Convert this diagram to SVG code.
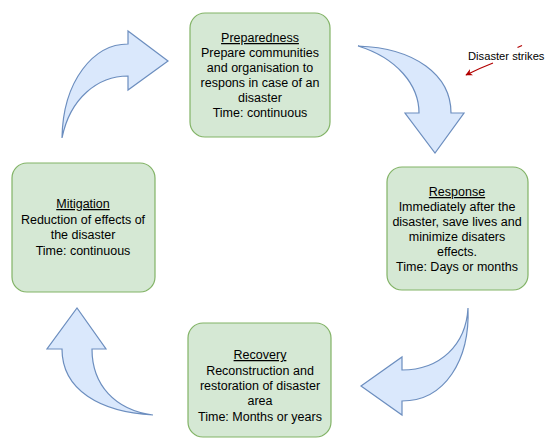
<svg xmlns="http://www.w3.org/2000/svg" width="545" height="442" viewBox="0 0 545 442">
<style>
.box{fill:#d5e8d4;stroke:#82b366;stroke-width:1.2}
.arr{fill:#dae8fc;stroke:#6c8ebf;stroke-width:1.2;stroke-linejoin:miter}
text{font-family:"Liberation Sans",Arial,Helvetica,sans-serif;font-size:12.5px;fill:#000;text-anchor:middle}
.t{text-decoration:underline}
.red{fill:none;stroke:#b20000;stroke-width:1.2}
</style>
<defs>
<marker id="rh" viewBox="0 0 10 10" refX="9" refY="5" markerWidth="7" markerHeight="7" orient="auto" markerUnits="userSpaceOnUse">
<path d="M0,0 L10,5 L0,10 L3,5 Z" fill="#b20000"/>
</marker>
</defs>
<rect width="545" height="442" fill="#fff"/>
<g id="connectors">
<path id="arrow-mit-prep" class="arr" d="M62,138 C63,80 94,44 128,44 L128,31 L168,61 L128,90 L128,76 C98,76 70,98 62,138 Z"/>
<path id="arrow-prep-resp" class="arr" d="M358,46 C415,48 451,75 451,113 L464,113 L435,153 L405,113 L419,113 C419,85 397,58 358,46 Z"/>
<path id="arrow-resp-rec" class="arr" d="M468,308 C470,360 445,401 402,401 L402,415 L361,386 L402,357 L402,370 C440,370 466,345 468,308 Z"/>
<path id="arrow-rec-mit" class="arr" d="M153,415 C100,412 62,390 62,349 L47,349 L77,308 L106,349 L92,349 C92,385 115,410 153,415 Z"/>
<path id="strike-arrow" class="red" d="M493,63 Q480,68 466,75" marker-end="url(#rh)"/>
<path class="red" d="M517.5,47.5 L522,45.5"/>
</g>
<g id="preparedness">
<rect class="box" x="190" y="13" width="140" height="124" rx="15"/>
<text x="260" y="42" class="t">Preparedness</text>
<text x="260" y="57">Prepare communities</text>
<text x="260" y="72">and organisation to</text>
<text x="260" y="87">respons in case of an</text>
<text x="260" y="102">disaster</text>
<text x="260" y="117">Time: continuous</text>
</g>
<g id="response">
<rect class="box" x="387" y="167" width="141" height="123" rx="15"/>
<text x="457" y="196" class="t">Response</text>
<text x="457" y="211">Immediately after the</text>
<text x="457" y="226">disaster, save lives and</text>
<text x="457" y="241">minimize disaters</text>
<text x="457" y="256">effects.</text>
<text x="457" y="271">Time: Days or months</text>
</g>
<g id="recovery">
<rect class="box" x="188" y="323" width="143" height="114" rx="15"/>
<text x="260" y="359" class="t">Recovery</text>
<text x="260" y="375">Reconstruction and</text>
<text x="260" y="390">restoration of disaster</text>
<text x="260" y="405">area</text>
<text x="260" y="421">Time: Months or years</text>
</g>
<g id="mitigation">
<rect class="box" x="12" y="163" width="143" height="129" rx="15"/>
<text x="83" y="208" class="t">Mitigation</text>
<text x="83" y="224">Reduction of effects of</text>
<text x="83" y="239">the disaster</text>
<text x="83" y="255">Time: continuous</text>
</g>
<g id="disaster-strikes">
<text x="468" y="60" style="text-anchor:start;font-size:11.2px">Disaster strikes</text>
</g>
</svg>
